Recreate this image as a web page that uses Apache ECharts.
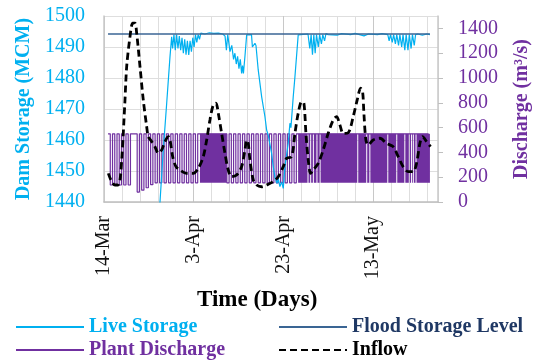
<!DOCTYPE html>
<html><head><meta charset="utf-8">
<script src="https://cdn.jsdelivr.net/npm/echarts@6/dist/echarts.min.js"></script>
<style>html,body{margin:0;padding:0;background:#fff}#c{width:540px;height:361px}</style>
</head><body><div id="c"></div>
<script>
// ---- data (day offsets from 14-Mar) ----
const xTickDays = [0, 20, 40, 60];
const xTickLabels = ['14-Mar', '3-Apr', '23-Apr', '13-May'];

const storageDays = [12.3,12.49,13.22,13.98,14.72,15.09,15.3,15.6,15.9,16.2,16.5,16.8,17.1,17.4,17.7,18.0,18.3,18.6,18.9,19.2,19.5,19.8,20.1,20.4,20.7,21.0,21.3,21.6,22.5,23.5,24.5,25.5,26.5,27.0,27.3,27.6,28.0,28.1,28.5,28.9,29.2,29.5,29.8,30.1,30.4,30.7,30.9,31.1,31.44,31.82,32.9,33.1,33.67,33.9,34.4,35.16,35.9,36.28,36.63,37.39,37.7,38.13,38.6,38.86,39.24,39.62,39.98,40.36,41.09,41.47,41.7,42.21,42.59,43.32,45.5,45.9,46.2,46.5,46.8,47.1,47.4,47.8,48.1,48.5,48.8,49.2,49.5,50.0,52.0,53.0,55.0,56.0,58.0,59.0,61.0,62.0,63.3,63.6,63.9,64.3,64.6,65.0,65.3,65.7,66.0,66.4,66.7,67.1,67.4,67.8,68.1,68.5,68.8,69.2,69.5,70.0,71.0,72.0,72.7];
const storageValues = [1437,1440,1456.8,1471.8,1486.9,1493.3,1489.5,1494,1489,1494,1489.5,1493.5,1489,1493,1488,1492.5,1487.5,1492,1487.4,1492,1488.5,1493,1490,1494,1491.5,1494,1492.5,1494.5,1494.2,1494.6,1494.4,1494.5,1494.2,1493.5,1489,1494,1494,1488.5,1490.5,1486,1488,1484.5,1487,1483,1486,1481.5,1484,1481.5,1487,1493.9,1494,1490,1491.2,1490.5,1482.6,1474,1467.5,1463.2,1461.6,1455.7,1452,1448,1446,1447.5,1445,1446.5,1444.4,1451.4,1458.9,1465.4,1464,1474,1480.4,1493.9,1494.2,1489.5,1494,1487.5,1494,1488,1494,1490,1494,1491,1494,1492,1494.3,1494,1493.8,1494.3,1494,1494.4,1493.6,1494.2,1494,1494.3,1494,1492,1494,1491.5,1494,1491,1494,1490.5,1494,1490,1494,1489,1494,1489,1494,1489.5,1494,1490.5,1494,1494.2,1493.8,1494.2,1494];

const floodDays = [0.9, 72.7];
const floodValues = [1494.2, 1494.2];

const dischargeStartDay = 0.9;
const dischargeStepDays = 0.5;
const dischargeValues = [
  550,137,550,137,550,137,550,137,550,137,
  550,550,550,
  80,
  550,95,550,115,550,140,
  550,155,550,155,550,155,550,155,550,155,550,155,550,155,550,155,550,155,550,155,550,
  550,550,550,550,550,550,550,550,550,550,550,550,
  155,550,155,550,155,550,155,550,155,550,155,550,155,550,155,550,155,550,155,550,155,550,155,550,155,550,155,550,155,550,155,550,
  550,550,550,550,550,550,550,550,550,550,550,550,550,550,550,550,550,550,550,550,
  550,550,550,550,550,550,550,550,550,550,550,550,550,550,550,550,550,550,550,550,
  550,550,550,550,550,550,550,550,550,550,550,550,550,550,550,550,550,550,550
];
// spans where the plant discharge toggles so densely that the band reads as solid
const denseSpans = [[21.4, 27.4], [43.3, 72.7]];
const denseGaps = [45.5, 46.1, 46.7, 47.5, 48.2, 56.6, 58.6, 59.3, 63.3, 65.3, 67.1, 68.1, 68.6, 69.0, 69.6];
const denseBand = [155, 550];

const inflowDays = [0.96,1.72,2.45,3.12,3.57,3.95,4.30,4.68,5.06,5.80,6.40,6.91,7.29,8.03,8.76,9.52,9.88,10.64,11.37,12.11,12.87,13.60,14.34,14.72,15.32,16.05,16.95,18.44,19.91,21.03,22.14,22.90,23.63,24.37,24.97,25.49,26.24,26.98,27.71,28.47,29.59,30.70,31.44,31.82,32.17,32.55,33.29,34.05,35.16,36.28,37.75,38.86,39.98,40.74,41.85,42.59,43.32,44.08,44.59,45.04,45.55,46.09,46.67,47.78,48.90,50.01,51.13,51.88,52.62,53.36,54.47,55.59,56.48,57.24,57.68,57.97,58.42,58.93,60.04,61.54,63.03,64.50,65.62,66.73,67.85,68.96,69.72,70.46,71.06,71.95,72.84];
const inflowValues = [231,164,137,137,178,339,554,823,1092,1334,1442,1442,1361,1092,823,608,527,487,446,393,420,487,527,500,366,285,258,231,231,272,366,500,662,783,797,716,554,393,258,204,218,285,420,500,473,339,178,137,123,137,164,204,285,353,366,554,716,809,797,554,339,231,258,312,420,554,662,689,621,554,559,689,823,918,890,716,500,460,500,514,473,446,366,285,245,245,312,473,527,487,446];

// ---- build ----
const serif = 'Liberation Serif';
const pair = (xs, ys) => xs.map((x, i) => [x, ys[i]]);
const dischargeData = dischargeValues.map((v, i) => [dischargeStartDay + i * dischargeStepDays, v]);
const gapHalf = 0.11;
const denseAreas = [];
denseSpans.forEach(([s, e]) => {
  let cur = s;
  denseGaps.filter(g => g > s && g < e).sort((a, b) => a - b).forEach(g => {
    denseAreas.push([{xAxis: cur, yAxis: denseBand[0]}, {xAxis: g - gapHalf, yAxis: denseBand[1]}]);
    cur = g + gapHalf;
  });
  denseAreas.push([{xAxis: cur, yAxis: denseBand[0]}, {xAxis: e, yAxis: denseBand[1]}]);
});

const chart = echarts.init(document.getElementById('c'), null, {renderer: 'canvas'});
const legendText = (color) => ({color: color, fontWeight: 'bold', fontSize: 20, fontFamily: serif});
const legendBase = {itemWidth: 68, itemHeight: 14, padding: 0, itemStyle: {opacity: 0}};
chart.setOption({
  animation: false,
  backgroundColor: '#fff',
  title: {text: 'Time (Days)', left: 192, top: 284,
    textStyle: {fontFamily: serif, fontWeight: 'bold', fontSize: 23, color: '#000'}},
  grid: {left: 104, right: 102, top: 16, bottom: 159, containLabel: false, outerBoundsMode: 'none'},
  legend: [
    Object.assign({data: ['Live Storage'], left: 15, top: 317, textStyle: legendText('#00B0F0')}, legendBase),
    Object.assign({data: ['Flood Storage Level'], left: 278, top: 317, textStyle: legendText('#1F3864')}, legendBase),
    Object.assign({data: ['Plant Discharge'], left: 15, top: 340, textStyle: legendText('#7030A0')}, legendBase),
    Object.assign({data: ['Inflow'], left: 278, top: 340, textStyle: legendText('#000')}, legendBase)
  ],
  xAxis: {
    type: 'value', min: 0, max: 74.5, interval: 4,
    axisLine: {show: true, lineStyle: {color: '#BFBFBF', width: 1.5}},
    axisTick: {show: false},
    axisLabel: {rotate: 90, margin: 14, interval: 0, showMaxLabel: false,
      fontFamily: serif, fontSize: 20, color: '#111',
      formatter: v => { const k = xTickDays.indexOf(v); return k >= 0 ? xTickLabels[k] : ''; }},
    splitLine: {show: true, lineStyle: {color: ['#C8C8C8', '#DEDEDE', '#DEDEDE', '#DEDEDE', '#DEDEDE'], width: 1}}
  },
  yAxis: [
    {type: 'value', min: 1440, max: 1500, interval: 10, position: 'left',
      name: 'Dam Storage (MCM)', nameLocation: 'middle', nameRotate: 90, nameGap: 65,
      nameTextStyle: {color: '#00B0F0', fontWeight: 'bold', fontSize: 20, fontFamily: serif},
      axisLine: {show: true, lineStyle: {color: '#C8C8C8', width: 1.5}},
      axisTick: {show: false},
      axisLabel: {margin: 19, fontFamily: serif, fontSize: 20, color: '#00B0F0', formatter: v => String(v)},
      splitLine: {show: true, lineStyle: {color: '#DEDEDE', width: 1}}},
    {type: 'value', min: 0, max: 1500, interval: 200, position: 'right',
      name: 'Discharge (m³/s)', nameLocation: 'middle', nameRotate: 90, nameGap: 74,
      nameTextStyle: {color: '#7030A0', fontWeight: 'bold', fontSize: 20, fontFamily: serif},
      axisLine: {show: true, lineStyle: {color: '#C8C8C8', width: 1.5}},
      axisTick: {show: true, inside: false, length: 5, lineStyle: {color: '#BFBFBF'}},
      axisLabel: {margin: 20, showMaxLabel: false, fontFamily: serif, fontSize: 20, color: '#7030A0', formatter: v => String(v)},
      splitLine: {show: false}}
  ],
  series: [
    {name: 'Plant Discharge', type: 'line', yAxisIndex: 1, step: 'end', symbol: 'none', z: 2,
      data: dischargeData, lineStyle: {color: '#7030A0', width: 1.2}, itemStyle: {color: '#7030A0'},
      markArea: {silent: true, itemStyle: {color: '#7030A0', opacity: 1, borderWidth: 0}, label: {show: false}, data: denseAreas}},
    {name: 'Live Storage', type: 'line', yAxisIndex: 0, symbol: 'none', z: 3,
      data: pair(storageDays, storageValues), lineStyle: {color: '#00B0F0', width: 1.2}, itemStyle: {color: '#00B0F0'}},
    {name: 'Flood Storage Level', type: 'line', yAxisIndex: 0, symbol: 'none', z: 4,
      data: pair(floodDays, floodValues), lineStyle: {color: '#3A6594', width: 1.5}, itemStyle: {color: '#3A6594'}},
    {name: 'Inflow', type: 'line', yAxisIndex: 1, symbol: 'none', smooth: 0.3, z: 5,
      data: pair(inflowDays, inflowValues), lineStyle: {color: '#000', width: 2.8, type: [7, 4]}, itemStyle: {color: '#000'}}
  ]
});
</script></body></html>
